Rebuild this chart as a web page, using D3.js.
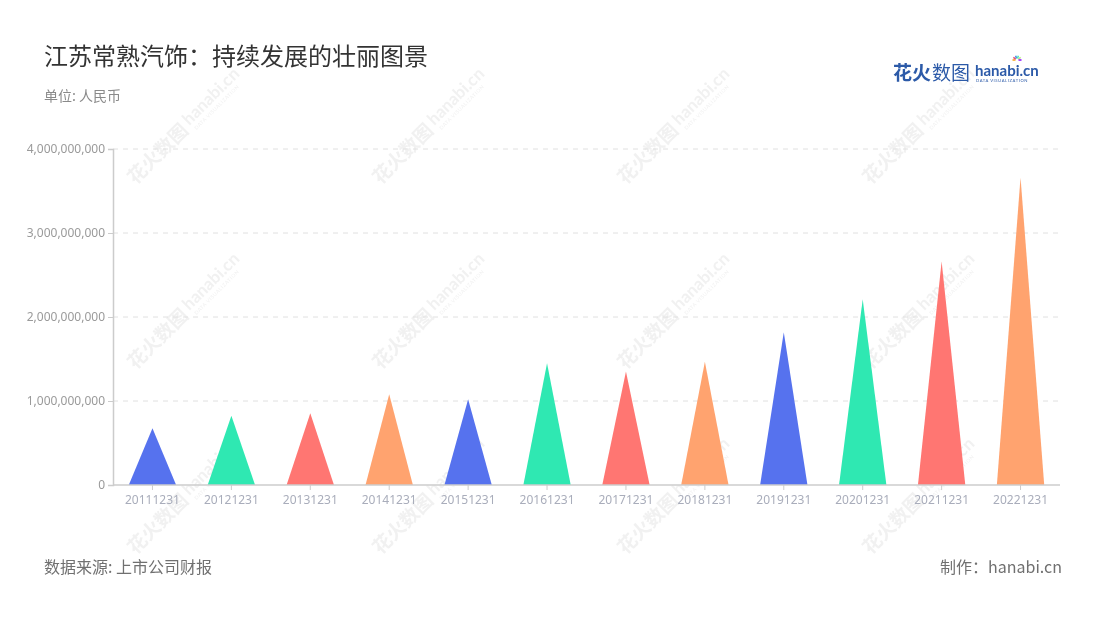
<!DOCTYPE html>
<html><head><meta charset="utf-8">
<script src="https://cdn.jsdelivr.net/npm/d3@7/dist/d3.min.js"></script>
<style>
html,body{margin:0;padding:0;background:#fff;}
svg{display:block;font-family:"Noto Sans CJK SC","Noto Sans",sans-serif;}
</style></head>
<body>
<svg id="chart" width="1100" height="620"></svg>
<script>
const categories = ["20111231","20121231","20131231","20141231","20151231","20161231","20171231","20181231","20191231","20201231","20211231","20221231"];
const values = [675000000, 825000000, 853000000, 1080000000, 1020000000, 1450000000, 1350000000, 1468000000, 1818000000, 2210000000, 2660000000, 3660000000];
const yTicks = [0, 1000000000, 2000000000, 3000000000, 4000000000];
const palette = ["#5672ee", "#2fe8b2", "#ff7672", "#ffa36f"];
const titleText = "江苏常熟汽饰：持续发展的壮丽图景";
const unitText = "单位: 人民币";
const sourceText = "数据来源: 上市公司财报";
const makerText = "制作：hanabi.cn";

const svg = d3.select("#chart");
const W = 1100, H = 620;
const m = {left:113, right:1060, top:149, bottom:485};

// watermarks
const wm = svg.append("g").attr("opacity", 0.45);
[128, 313, 498].forEach(cy => {
  [183, 428, 673, 918].forEach(cx => {
    const g = wm.append("g").attr("transform", `translate(${cx},${cy}) rotate(-45)`);
    g.append("text").attr("x", -74).attr("y", 7).attr("font-size", 19).attr("font-weight", 700)
      .attr("fill", "#e0e0e0").text("花火数图");
    g.append("text").attr("x", 6).attr("y", 3).attr("font-size", 17).attr("font-weight", 700)
      .attr("font-family", "Lato, sans-serif").attr("fill", "#e0e0e0").text("hanabi.cn");
    g.append("text").attr("x", 8).attr("y", 11).attr("font-size", 5).attr("letter-spacing", 0.6)
      .attr("font-family", "Lato, sans-serif").attr("fill", "#e0e0e0").text("DATA VISUALIZATION");
  });
});

// title etc.
svg.append("text").attr("x", 44).attr("y", 65).attr("font-size", 24).attr("fill", "#333").text(titleText);
svg.append("text").attr("x", 44).attr("y", 101).attr("font-size", 14).attr("fill", "#8a8a8a").text(unitText);
svg.append("text").attr("x", 44).attr("y", 573).attr("font-size", 16).attr("fill", "#707070").text(sourceText);
svg.append("text").attr("x", 1062).attr("y", 573).attr("font-size", 16).attr("fill", "#707070")
  .attr("text-anchor", "end").text(makerText);

// logo
const logo = svg.append("g").attr("transform", "translate(893,80)");
logo.append("text").attr("x", 0).attr("y", 0).attr("font-size", 19).attr("font-weight", 700)
  .attr("fill", "#2c5aa8").text("花火");
logo.append("text").attr("x", 39).attr("y", 0).attr("font-size", 19)
  .attr("fill", "#2c5aa8").text("数图");
logo.append("text").attr("x", 82).attr("y", -4).attr("font-size", 15).attr("font-weight", 700)
  .attr("font-family", "Lato, sans-serif").attr("fill", "#2c5aa8").text("hanabi.cn");
logo.append("text").attr("x", 83).attr("y", 2).attr("font-size", 4.2).attr("letter-spacing", 0.55)
  .attr("font-family", "Lato, sans-serif").attr("fill", "#2c5aa8").text("DATA VISUALIZATION");
const star = logo.append("g").attr("transform", "translate(124,-20)");
["#f5a623","#e94e77","#4a90e2","#50e3c2","#b8e986","#9013fe"].forEach((c,i) => {
  const a = -Math.PI + i * Math.PI/5;
  star.append("line").attr("x1", Math.cos(a)*1.5).attr("y1", Math.sin(a)*1.5)
    .attr("x2", Math.cos(a)*4.5).attr("y2", Math.sin(a)*4.5).attr("stroke", c).attr("stroke-width", 1.6);
});

// scales
const x = d3.scaleBand().domain(categories).range([m.left, m.right]);
const y = d3.scaleLinear().domain([0, 4000000000]).range([m.bottom, m.top]);

// grid
svg.append("g").selectAll("line").data(yTicks.filter(d => d > 0)).join("line")
  .attr("x1", m.left).attr("x2", m.right).attr("y1", d => y(d)).attr("y2", d => y(d))
  .attr("stroke", "#e0e0e0").attr("stroke-dasharray", "5,5");

// triangles
const bw = x.bandwidth() * 0.6;
svg.append("g").selectAll("path").data(categories).join("path")
  .attr("d", (c, i) => {
    const cx = x(c) + x.bandwidth()/2;
    return `M${cx - bw/2},${y(0)} L${cx},${y(values[i])} L${cx + bw/2},${y(0)} Z`;
  })
  .attr("fill", (c, i) => palette[i % 4]);

// y axis
const yAxis = d3.axisLeft(y).tickValues(yTicks).tickSize(5).tickPadding(3).tickFormat(d3.format(","));
const gy = svg.append("g").attr("transform", `translate(${m.left},0)`).call(yAxis);
gy.select(".domain").attr("stroke", "#ccc").attr("stroke-width", 1.5);
gy.selectAll(".tick line").attr("stroke", "#ccc");
gy.selectAll(".tick text").attr("fill", "#9a9a9a").attr("font-size", 12)
  .attr("font-family", "'Noto Sans', sans-serif");

// x axis
const xAxis = d3.axisBottom(x).tickSize(5).tickPadding(5);
const gx = svg.append("g").attr("transform", `translate(0,${m.bottom})`).call(xAxis);
gx.select(".domain").attr("stroke", "#ccc").attr("stroke-width", 1.5).attr("d", `M${m.left},0H${m.right}`);
gx.selectAll(".tick line").attr("stroke", "#ccc");
gx.selectAll(".tick text").attr("fill", "#a9adbb").attr("font-size", 12)
  .attr("font-family", "'Noto Sans', sans-serif");
</script>
</body></html>
